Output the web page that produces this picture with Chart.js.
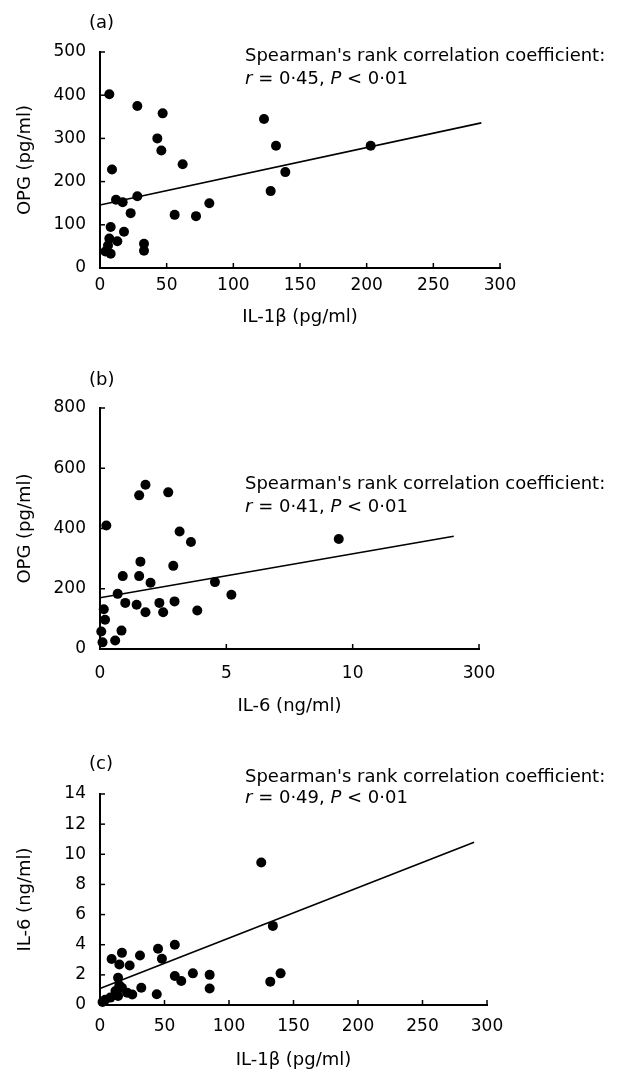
<!DOCTYPE html>
<html>
<head>
<meta charset="utf-8">
<script src="https://cdn.jsdelivr.net/npm/chart.js@4.4.0/dist/chart.umd.min.js"></script>
<style>
  body { margin: 0; width: 623px; height: 1073px; position: relative; overflow: hidden; background: #fff; color: #000; font-family: "DejaVu Sans", sans-serif; }
  canvas { position: absolute; left: 0; }
  .txt { position: absolute; font-size: 18px; line-height: 20px; white-space: nowrap; }
</style>
</head>
<body>
<canvas id="chart-a" width="623" height="340" style="top:0px"></canvas>
<canvas id="chart-b" width="623" height="385" style="top:340px"></canvas>
<canvas id="chart-c" width="623" height="348" style="top:725px"></canvas>

<div class="txt" style="left:89px;top:12px">(a)</div>
<div class="txt" style="left:245px;top:45px">Spearman's rank correlation coefficient:</div>
<div class="txt" style="left:245px;top:68px"><i>r</i> = 0·45, <i>P</i> &lt; 0·01</div>

<div class="txt" style="left:89px;top:369px">(b)</div>
<div class="txt" style="left:245px;top:473px">Spearman's rank correlation coefficient:</div>
<div class="txt" style="left:245px;top:496px"><i>r</i> = 0·41, <i>P</i> &lt; 0·01</div>

<div class="txt" style="left:89px;top:753px">(c)</div>
<div class="txt" style="left:245px;top:766px">Spearman's rank correlation coefficient:</div>
<div class="txt" style="left:245px;top:787px"><i>r</i> = 0·49, <i>P</i> &lt; 0·01</div>

<script>
// (a) IL-1b (pg/ml) vs OPG (pg/ml)
var aX = [7, 28, 47, 43, 46, 62, 9, 12, 17, 28, 23, 56, 72, 82, 123, 128, 132, 139, 203, 8, 18, 7, 13, 6, 4, 8, 33, 33];
var aY = [402, 375, 358, 300, 272, 240, 228, 158, 152, 166, 127, 123, 120, 150, 345, 178, 283, 222, 283, 95, 84, 68, 62, 52, 38, 33, 56, 40];
var aFitX = [0, 286];
var aFitY = [146, 336];

// (b) IL-6 (ng/ml) vs OPG (pg/ml)
var bX = [0.25, 1.8, 1.55, 2.7, 3.15, 3.6, 1.6, 2.9, 1.55, 0.9, 2.0, 4.55, 5.2, 0.7, 1.0, 1.45, 1.8, 2.35, 2.5, 2.95, 3.85, 0.15, 0.2, 0.05, 0.1, 0.6, 0.85, 9.45];
var bY = [410, 545, 510, 520, 390, 355, 290, 276, 242, 242, 220, 222, 180, 183, 153, 147, 122, 153, 122, 158, 128, 132, 97, 58, 22, 28, 61, 365];
var bFitX = [0, 14];
var bFitY = [170, 374];

// (c) IL-1b (pg/ml) vs IL-6 (ng/ml)
var cX = [125, 134, 132, 140, 58, 45, 48, 31, 17, 9, 15, 23, 14, 58, 63, 72, 85, 85, 32, 44, 17, 21, 12, 15, 8, 4, 2, 25, 14];
var cY = [9.45, 5.25, 1.55, 2.1, 4.0, 3.73, 3.07, 3.29, 3.46, 3.05, 2.69, 2.62, 1.81, 1.92, 1.59, 2.1, 2.0, 1.1, 1.15, 0.71, 1.15, 0.82, 0.93, 1.3, 0.49, 0.35, 0.2, 0.7, 0.6];
var cFitX = [0, 290];
var cFitY = [1.1, 10.8];

// tick labels of (b) as printed (last one reads 300)
var bXTickLabels = { 0: '0', 5: '5', 10: '10', 15: '300' };

Chart.defaults.font.family = '"DejaVu Sans", sans-serif';
Chart.defaults.color = '#000';

function pts(xs, ys) {
    return xs.map(function (x, i) { return { x: x, y: ys[i] }; });
}

// small ticks pointing into the plot, like the printed figure
var inwardTicks = {
    id: 'inwardTicks',
    afterDraw: function (chart) {
        var ctx = chart.ctx, area = chart.chartArea, sx = chart.scales.x, sy = chart.scales.y;
        ctx.save();
        ctx.strokeStyle = '#000';
        ctx.lineWidth = 1.5;
        sx.ticks.forEach(function (t) {
            var px = sx.getPixelForValue(t.value);
            ctx.beginPath(); ctx.moveTo(px, area.bottom); ctx.lineTo(px, area.bottom - 5); ctx.stroke();
        });
        sy.ticks.forEach(function (t) {
            var py = sy.getPixelForValue(t.value);
            ctx.beginPath(); ctx.moveTo(area.left, py); ctx.lineTo(area.left + 5, py); ctx.stroke();
        });
        ctx.restore();
    }
};

function makeScatter(el, p) {
    var H = el.height;
    return new Chart(el, {
        type: 'scatter',
        data: {
            datasets: [{
                data: pts(p.xs, p.ys),
                backgroundColor: '#000',
                borderWidth: 0,
                pointRadius: 5,
                pointHoverRadius: 5,
                clip: false
            }, {
                type: 'line',
                data: pts(p.fitX, p.fitY),
                borderColor: '#000',
                borderWidth: 1.6,
                pointRadius: 0,
                fill: false,
                clip: false
            }]
        },
        options: {
            responsive: false,
            animation: false,
            layout: { padding: { left: 0, right: 623 - p.right, top: p.top, bottom: 0 } },
            plugins: { legend: { display: false }, tooltip: { enabled: false } },
            scales: {
                x: {
                    type: 'linear',
                    min: p.xMin, max: p.xMax,
                    grid: { display: false, drawTicks: false },
                    border: { display: true, color: '#000', width: 2 },
                    ticks: { stepSize: p.xStep, padding: p.xPad, font: { size: 17 }, maxRotation: 0, callback: p.xLabel },
                    title: { display: true, text: p.xTitle, font: { size: 18 }, padding: { top: 0, bottom: p.xTitlePad } },
                    afterFit: function (scale) { scale.height = H - p.bottom; }
                },
                y: {
                    type: 'linear',
                    min: p.yMin, max: p.yMax,
                    grid: { display: false, drawTicks: false },
                    border: { display: true, color: '#000', width: 2 },
                    ticks: { stepSize: p.yStep, padding: 14, font: { size: 17 } },
                    title: { display: true, text: p.yTitle, font: { size: 18 }, padding: { top: 15, bottom: 0 } },
                    afterFit: function (scale) { scale.width = 100; }
                }
            }
        },
        plugins: [inwardTicks]
    });
}

var chartA = makeScatter(document.getElementById('chart-a'), {
    xs: aX, ys: aY, fitX: aFitX, fitY: aFitY,
    top: 52, bottom: 268, right: 500,
    xMin: 0, xMax: 300, xStep: 50, xPad: 7, xTitlePad: 12,
    yMin: 0, yMax: 500, yStep: 100,
    xTitle: 'IL-1β (pg/ml)', yTitle: 'OPG (pg/ml)'
});

var chartB = makeScatter(document.getElementById('chart-b'), {
    xs: bX, ys: bY, fitX: bFitX, fitY: bFitY,
    top: 68, bottom: 309, right: 479,
    xMin: 0, xMax: 15, xStep: 5, xPad: 14, xTitlePad: 8,
    xLabel: function (v) { return bXTickLabels[v]; },
    yMin: 0, yMax: 800, yStep: 200,
    xTitle: 'IL-6 (ng/ml)', yTitle: 'OPG (pg/ml)'
});

var chartC = makeScatter(document.getElementById('chart-c'), {
    xs: cX, ys: cY, fitX: cFitX, fitY: cFitY,
    top: 69, bottom: 280, right: 487,
    xMin: 0, xMax: 300, xStep: 50, xPad: 11, xTitlePad: 2,
    yMin: 0, yMax: 14, yStep: 2,
    xTitle: 'IL-1β (pg/ml)', yTitle: 'IL-6 (ng/ml)'
});
</script>
</body>
</html>
